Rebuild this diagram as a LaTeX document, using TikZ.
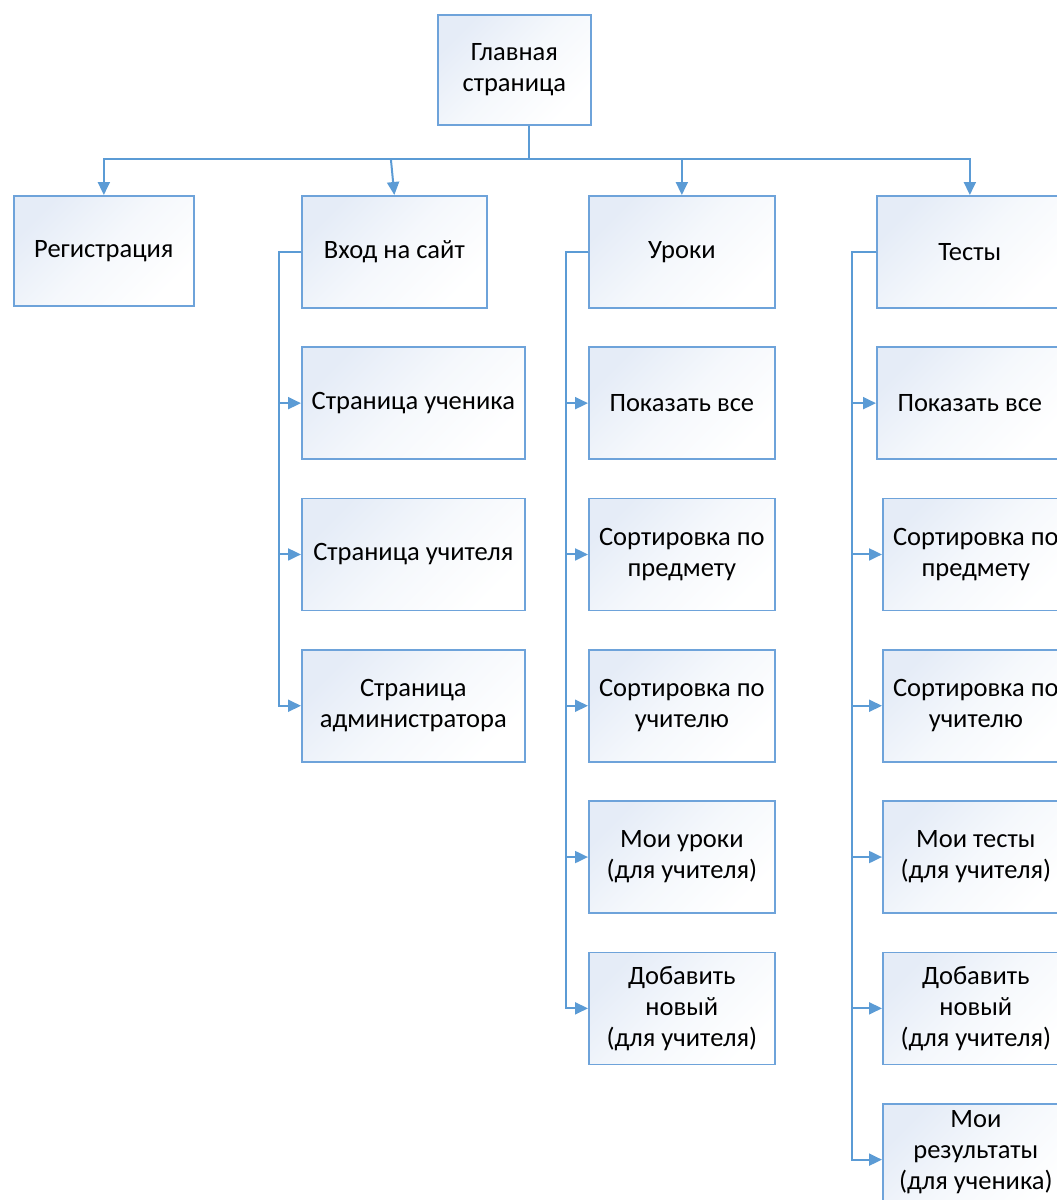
\documentclass[tikz,border=0pt]{standalone}
\usepackage{fontspec}
\setmainfont{Carlito}
\usetikzlibrary{arrows.meta, positioning, calc}
\definecolor{boxline}{RGB}{110,163,218}
\definecolor{boxtop}{RGB}{229,236,247}
\definecolor{boxmid}{RGB}{245,248,252}
\definecolor{linkblue}{RGB}{91,155,213}

\begin{document}
\begin{tikzpicture}[x=1pt, y=-1pt, font=\fontsize{26.5}{31}\selectfont,
    >={Triangle[length=13pt, width=12pt]},
    box/.style={draw=boxline, line width=1.7pt, top color=boxtop, bottom color=white, middle color=boxmid,
      shading angle=45, align=center, inner sep=0pt, anchor=north west, minimum height=112pt},
    stack/.style={below=37.6pt of #1.south west, anchor=north west},
    link/.style={draw=linkblue, line width=2pt}]
    \useasboundingbox (0,0) rectangle (1057,1200);
    \clip (0,0) rectangle (1057,1200);

    \node[box, minimum width=153pt, minimum height=110pt] (main) at (437,14) {Главная\\страница};
    \node[box, minimum width=180pt, minimum height=110pt] (reg) at (13,195) {Регистрация};
    \node[box, minimum width=185pt] (login) at (301,195) {Вход на сайт};
    \node[box, minimum width=186pt] (lessons) at (588,195) {Уроки};
    \node[box, minimum width=186pt] (tests) at (876,195) {Тесты};

    \node[box, minimum width=223pt, stack=login] (student) {Страница ученика};
    \node[box, minimum width=223pt, stack=student] (teacher) {Страница учителя};
    \node[box, minimum width=223pt, stack=teacher] (admin) {Страница\\администратора};

    \node[box, minimum width=186pt, stack=lessons] (lall) {Показать все};
    \node[box, minimum width=186pt, stack=lall] (lsubj) {Сортировка по\\предмету};
    \node[box, minimum width=186pt, stack=lsubj] (lteach) {Сортировка по\\учителю};
    \node[box, minimum width=186pt, stack=lteach] (lmine) {Мои уроки\\(для учителя)};
    \node[box, minimum width=186pt, stack=lmine] (ladd) {Добавить\\новый\\(для учителя)};

    \node[box, minimum width=186pt, stack=tests] (tall) {Показать все};
    \node[box, minimum width=186pt, stack=tall, xshift=6pt] (tsubj) {Сортировка по\\предмету};
    \node[box, minimum width=186pt, stack=tsubj] (tteach) {Сортировка по\\учителю};
    \node[box, minimum width=186pt, stack=tteach] (tmine) {Мои тесты\\(для учителя)};
    \node[box, minimum width=186pt, stack=tmine] (tadd) {Добавить\\новый\\(для учителя)};
    \node[box, minimum width=186pt, stack=tadd, text depth=20pt] (tres) {Мои\\результаты\\(для ученика)};

    \coordinate (bus) at ($(main.south)+(14.5,33)$);
    \draw[link] ($(main.south)+(14.5,0)$) -- (bus);
    \draw[link, ->] (bus) -| (reg.north);
    \draw[link, ->] ($(bus -| login.north)+(-3.5,0)$) -- (login.north);
    \draw[link, ->] (bus) -| (lessons.north);
    \draw[link, ->] (bus) -| (tests.north);

    \draw[link, ->] (login.west) -- ++(-22,0) |- (student.west);
    \draw[link, ->] (login.west) -- ++(-22,0) |- (teacher.west);
    \draw[link, ->] (login.west) -- ++(-22,0) |- (admin.west);

    \draw[link, ->] (lessons.west) -- ++(-22,0) |- (lall.west);
    \draw[link, ->] (lessons.west) -- ++(-22,0) |- (lsubj.west);
    \draw[link, ->] (lessons.west) -- ++(-22,0) |- (lteach.west);
    \draw[link, ->] (lessons.west) -- ++(-22,0) |- (lmine.west);
    \draw[link, ->] (lessons.west) -- ++(-22,0) |- (ladd.west);

    \draw[link, ->] (tests.west) -- ++(-24,0) |- (tall.west);
    \draw[link, ->] (tests.west) -- ++(-24,0) |- (tsubj.west);
    \draw[link, ->] (tests.west) -- ++(-24,0) |- (tteach.west);
    \draw[link, ->] (tests.west) -- ++(-24,0) |- (tmine.west);
    \draw[link, ->] (tests.west) -- ++(-24,0) |- (tadd.west);
    \draw[link, ->] (tests.west) -- ++(-24,0) |- (tres.west);
\end{tikzpicture}
\end{document}
